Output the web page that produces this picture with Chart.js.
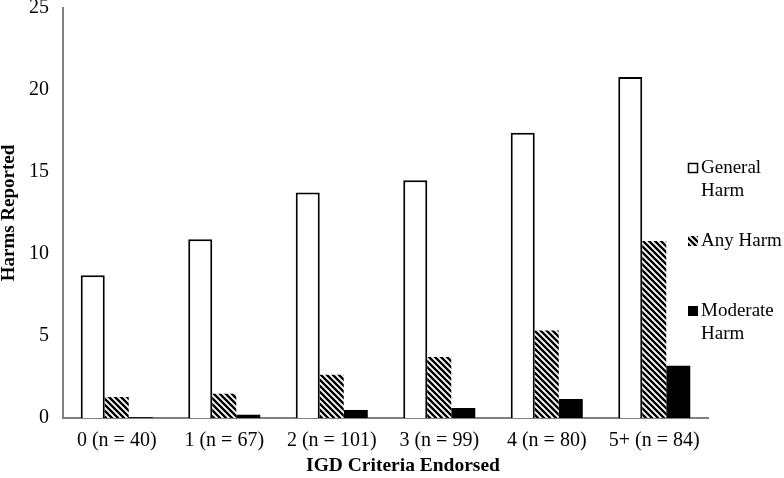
<!DOCTYPE html>
<html>
<head>
<meta charset="utf-8">
<script src="https://cdn.jsdelivr.net/npm/chart.js@4"></script>
<style>
  html, body { margin: 0; padding: 0; background: #fff; }
  #wrap { width: 784px; height: 478px; }
</style>
</head>
<body>
<div id="wrap"><canvas id="chart" width="784" height="478"></canvas></div>
<script>
const categories = ["0 (n = 40)", "1 (n = 67)", "2 (n = 101)", "3 (n = 99)", "4 (n = 80)", "5+ (n = 84)"]
const generalHarm = [8.7, 10.9, 13.75, 14.5, 17.4, 20.8]
const anyHarm = [1.28, 1.48, 2.64, 3.72, 5.34, 10.8]
const moderateHarm = [0.05, 0.2, 0.49, 0.61, 1.16, 3.19]
const yTicks = [0, 5, 10, 15, 20, 25]

const serif = "'Liberation Serif', 'Times New Roman', serif"

function makeHatch() {
  const s = 6
  const c = document.createElement("canvas")
  c.width = s
  c.height = s
  const ctx = c.getContext("2d")
  ctx.fillStyle = "#fff"
  ctx.fillRect(0, 0, s, s)
  ctx.strokeStyle = "#000"
  ctx.lineWidth = 2.4
  ctx.beginPath()
  for (let k = -1; k <= 1; k++) {
    ctx.moveTo(k * s - 1, -1)
    ctx.lineTo(k * s + s + 1, s + 1)
  }
  ctx.stroke()
  return document.getElementById("chart").getContext("2d").createPattern(c, "repeat")
}

const hatch = makeHatch()

// legend and x title drawn by hand: wrapped labels, and the title sits right of centre
const sideLegend = {
  id: "sideLegend",
  afterDraw(chart) {
    const ctx = chart.ctx
    const items = [
      { lines: ["General", "Harm"], y: 168, ds: 0 },
      { lines: ["Any Harm"], y: 241, ds: 1 },
      { lines: ["Moderate", "Harm"], y: 311, ds: 2 }
    ]
    ctx.save()
    ctx.font = "19px " + serif
    ctx.textBaseline = "middle"
    items.forEach(it => {
      const ds = chart.data.datasets[it.ds]
      ctx.fillStyle = ds.backgroundColor
      ctx.fillRect(688, it.y - 5, 10, 10)
      if (ds.borderWidth) {
        ctx.strokeStyle = "#000"
        ctx.lineWidth = 1.5
        ctx.strokeRect(688.5, it.y - 4.5, 9, 9)
      }
      ctx.fillStyle = "#000"
      it.lines.forEach((t, i) => ctx.fillText(t, 701, it.y + i * 23))
    })

    ctx.font = "bold 19.5px " + serif
    ctx.textAlign = "center"
    ctx.fillText("IGD Criteria Endorsed", 403, 466)
    ctx.restore()
  }
}

new Chart(document.getElementById("chart"), {
  type: "bar",
  data: {
    labels: categories,
    datasets: [
      { label: "General Harm", data: generalHarm, backgroundColor: "#fff", borderColor: "#000", borderWidth: 2 },
      { label: "Any Harm", data: anyHarm, backgroundColor: hatch, borderWidth: 0 },
      { label: "Moderate Harm", data: moderateHarm, backgroundColor: "#000", borderWidth: 0 }
    ]
  },
  options: {
    responsive: false,
    animation: false,
    events: [],
    layout: { padding: { top: 8, right: 76, left: 0, bottom: 0 } },
    datasets: { bar: { categoryPercentage: 0.67, barPercentage: 1 } },
    plugins: {
      legend: { display: false },
      tooltip: { enabled: false }
    },
    scales: {
      x: {
        grid: { display: false, drawTicks: false },
        border: { color: "#808080", width: 2 },
        ticks: { color: "#000", font: { family: serif, size: 20 }, padding: 11, maxRotation: 0 },
        afterFit: s => { s.height = 60 }
      },
      y: {
        min: 0,
        max: 25,
        afterBuildTicks: s => { s.ticks = yTicks.map(v => ({ value: v })) },
        grid: { display: false, drawTicks: false },
        border: { color: "#808080", width: 2 },
        ticks: { color: "#000", font: { family: serif, size: 20 }, padding: 14 },
        title: { display: true, text: "Harms Reported", color: "#000", font: { family: serif, size: 19, weight: "bold", lineHeight: 1 }, padding: { top: 0, bottom: 0 } },
        afterFit: s => {
          s.width = 63
          s.paddingTop = 0
          s.paddingBottom = 0
        }
      }
    }
  },
  plugins: [sideLegend]
})
</script>
</body>
</html>
